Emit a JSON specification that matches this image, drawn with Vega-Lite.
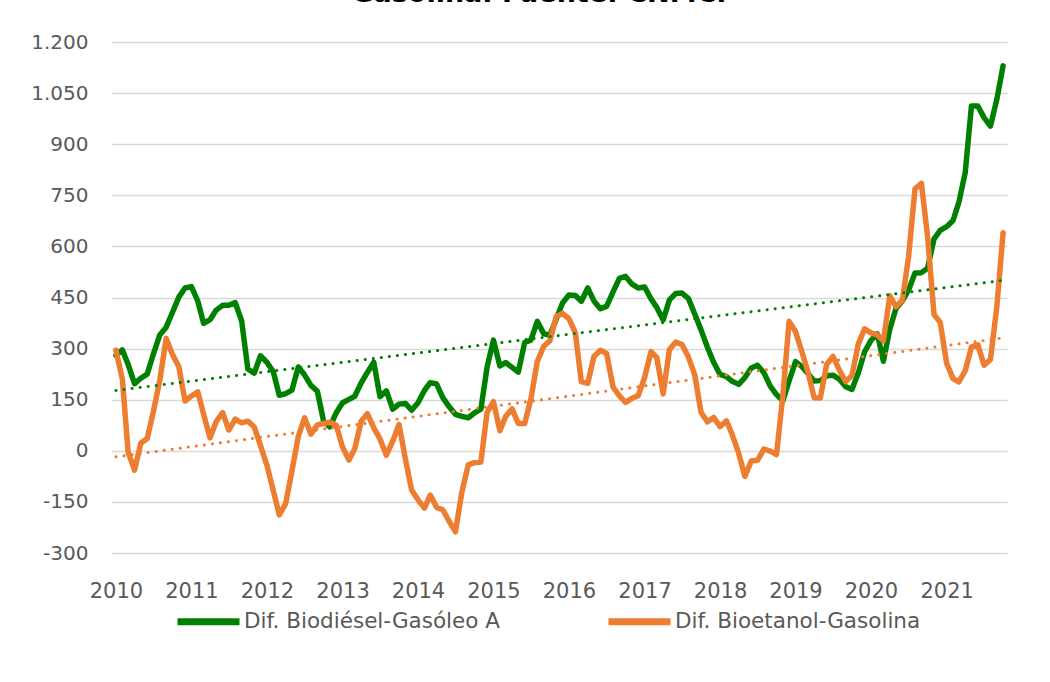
{
  "$schema": "https://vega.github.io/schema/vega-lite/v6.json",
  "width": 896,
  "height": 511,
  "autosize": {"type": "none"},
  "padding": {"left": 111, "top": 42, "right": 43, "bottom": 129},
  "background": "white",
  "title": {"text": "Gasolina. Fuente: CNMC.", "fontSize": 27, "font": "DejaVu Sans", "fontWeight": "bold", "color": "#000000", "offset": 24, "anchor": "middle", "dx": -20},
  "config": {
    "locale": {"number": {"decimal": ",", "thousands": ".", "grouping": [3], "currency": ["", " €"], "minus": "-"}},
    "view": {"stroke": null},
    "axis": {"labelFont": "DejaVu Sans", "labelColor": "#595959"}
  },
  "data": {
    "format": {"parse": {"date": "date"}},
    "values": [
      {"date":"2010-01-01","biodiesel":280,"bioetanol":295},
      {"date":"2010-02-01","biodiesel":296,"bioetanol":210},
      {"date":"2010-03-01","biodiesel":253,"bioetanol":-4},
      {"date":"2010-04-01","biodiesel":197,"bioetanol":-57},
      {"date":"2010-05-01","biodiesel":213,"bioetanol":22},
      {"date":"2010-06-01","biodiesel":225,"bioetanol":36},
      {"date":"2010-07-01","biodiesel":284,"bioetanol":115},
      {"date":"2010-08-01","biodiesel":340,"bioetanol":207},
      {"date":"2010-09-01","biodiesel":363,"bioetanol":330},
      {"date":"2010-10-01","biodiesel":406,"bioetanol":283},
      {"date":"2010-11-01","biodiesel":451,"bioetanol":247},
      {"date":"2010-12-01","biodiesel":478,"bioetanol":146},
      {"date":"2011-01-01","biodiesel":482,"bioetanol":161},
      {"date":"2011-02-01","biodiesel":439,"bioetanol":173},
      {"date":"2011-03-01","biodiesel":374,"bioetanol":107},
      {"date":"2011-04-01","biodiesel":385,"bioetanol":38},
      {"date":"2011-05-01","biodiesel":413,"bioetanol":86},
      {"date":"2011-06-01","biodiesel":427,"bioetanol":112},
      {"date":"2011-07-01","biodiesel":427,"bioetanol":61},
      {"date":"2011-08-01","biodiesel":435,"bioetanol":93},
      {"date":"2011-09-01","biodiesel":381,"bioetanol":82},
      {"date":"2011-10-01","biodiesel":240,"bioetanol":87},
      {"date":"2011-11-01","biodiesel":228,"bioetanol":70},
      {"date":"2011-12-01","biodiesel":279,"bioetanol":15},
      {"date":"2012-01-01","biodiesel":260,"bioetanol":-42},
      {"date":"2012-02-01","biodiesel":232,"bioetanol":-117},
      {"date":"2012-03-01","biodiesel":163,"bioetanol":-188},
      {"date":"2012-04-01","biodiesel":168,"bioetanol":-155},
      {"date":"2012-05-01","biodiesel":178,"bioetanol":-60},
      {"date":"2012-06-01","biodiesel":246,"bioetanol":42},
      {"date":"2012-07-01","biodiesel":223,"bioetanol":97},
      {"date":"2012-08-01","biodiesel":192,"bioetanol":49},
      {"date":"2012-09-01","biodiesel":175,"bioetanol":76},
      {"date":"2012-10-01","biodiesel":88,"bioetanol":80},
      {"date":"2012-11-01","biodiesel":70,"bioetanol":84},
      {"date":"2012-12-01","biodiesel":111,"bioetanol":76},
      {"date":"2013-01-01","biodiesel":141,"bioetanol":11},
      {"date":"2013-02-01","biodiesel":151,"bioetanol":-27},
      {"date":"2013-03-01","biodiesel":160,"bioetanol":6},
      {"date":"2013-04-01","biodiesel":199,"bioetanol":87},
      {"date":"2013-05-01","biodiesel":230,"bioetanol":109},
      {"date":"2013-06-01","biodiesel":260,"bioetanol":67},
      {"date":"2013-07-01","biodiesel":159,"bioetanol":35},
      {"date":"2013-08-01","biodiesel":176,"bioetanol":-13},
      {"date":"2013-09-01","biodiesel":122,"bioetanol":29},
      {"date":"2013-10-01","biodiesel":137,"bioetanol":77},
      {"date":"2013-11-01","biodiesel":139,"bioetanol":-24},
      {"date":"2013-12-01","biodiesel":119,"bioetanol":-115},
      {"date":"2014-01-01","biodiesel":141,"bioetanol":-144},
      {"date":"2014-02-01","biodiesel":177,"bioetanol":-168},
      {"date":"2014-03-01","biodiesel":200,"bioetanol":-130},
      {"date":"2014-04-01","biodiesel":196,"bioetanol":-166},
      {"date":"2014-05-01","biodiesel":156,"bioetanol":-173},
      {"date":"2014-06-01","biodiesel":129,"bioetanol":-207},
      {"date":"2014-07-01","biodiesel":107,"bioetanol":-238},
      {"date":"2014-08-01","biodiesel":101,"bioetanol":-122},
      {"date":"2014-09-01","biodiesel":97,"bioetanol":-41},
      {"date":"2014-10-01","biodiesel":111,"bioetanol":-35},
      {"date":"2014-11-01","biodiesel":122,"bioetanol":-33},
      {"date":"2014-12-01","biodiesel":245,"bioetanol":112},
      {"date":"2015-01-01","biodiesel":325,"bioetanol":144},
      {"date":"2015-02-01","biodiesel":249,"bioetanol":59},
      {"date":"2015-03-01","biodiesel":259,"bioetanol":101},
      {"date":"2015-04-01","biodiesel":245,"bioetanol":123},
      {"date":"2015-05-01","biodiesel":231,"bioetanol":80},
      {"date":"2015-06-01","biodiesel":318,"bioetanol":80},
      {"date":"2015-07-01","biodiesel":325,"bioetanol":152},
      {"date":"2015-08-01","biodiesel":380,"bioetanol":262},
      {"date":"2015-09-01","biodiesel":344,"bioetanol":307},
      {"date":"2015-10-01","biodiesel":339,"bioetanol":323},
      {"date":"2015-11-01","biodiesel":387,"bioetanol":394},
      {"date":"2015-12-01","biodiesel":434,"bioetanol":403},
      {"date":"2016-01-01","biodiesel":457,"bioetanol":388},
      {"date":"2016-02-01","biodiesel":456,"bioetanol":346},
      {"date":"2016-03-01","biodiesel":439,"bioetanol":203},
      {"date":"2016-04-01","biodiesel":478,"bioetanol":198},
      {"date":"2016-05-01","biodiesel":440,"bioetanol":277},
      {"date":"2016-06-01","biodiesel":417,"bioetanol":295},
      {"date":"2016-07-01","biodiesel":424,"bioetanol":286},
      {"date":"2016-08-01","biodiesel":466,"bioetanol":188},
      {"date":"2016-09-01","biodiesel":506,"bioetanol":161},
      {"date":"2016-10-01","biodiesel":512,"bioetanol":142},
      {"date":"2016-11-01","biodiesel":489,"bioetanol":154},
      {"date":"2016-12-01","biodiesel":478,"bioetanol":162},
      {"date":"2017-01-01","biodiesel":481,"bioetanol":215},
      {"date":"2017-02-01","biodiesel":446,"bioetanol":291},
      {"date":"2017-03-01","biodiesel":421,"bioetanol":274},
      {"date":"2017-04-01","biodiesel":384,"bioetanol":167},
      {"date":"2017-05-01","biodiesel":443,"bioetanol":297},
      {"date":"2017-06-01","biodiesel":462,"bioetanol":319},
      {"date":"2017-07-01","biodiesel":463,"bioetanol":312},
      {"date":"2017-08-01","biodiesel":447,"bioetanol":275},
      {"date":"2017-09-01","biodiesel":401,"bioetanol":222},
      {"date":"2017-10-01","biodiesel":355,"bioetanol":113},
      {"date":"2017-11-01","biodiesel":304,"bioetanol":85},
      {"date":"2017-12-01","biodiesel":260,"bioetanol":98},
      {"date":"2018-01-01","biodiesel":224,"bioetanol":71},
      {"date":"2018-02-01","biodiesel":218,"bioetanol":88},
      {"date":"2018-03-01","biodiesel":204,"bioetanol":47},
      {"date":"2018-04-01","biodiesel":195,"bioetanol":-7},
      {"date":"2018-05-01","biodiesel":215,"bioetanol":-75},
      {"date":"2018-06-01","biodiesel":243,"bioetanol":-30},
      {"date":"2018-07-01","biodiesel":251,"bioetanol":-28},
      {"date":"2018-08-01","biodiesel":229,"bioetanol":5},
      {"date":"2018-09-01","biodiesel":190,"bioetanol":-1},
      {"date":"2018-10-01","biodiesel":165,"bioetanol":-11},
      {"date":"2018-11-01","biodiesel":147,"bioetanol":163},
      {"date":"2018-12-01","biodiesel":205,"bioetanol":380},
      {"date":"2019-01-01","biodiesel":262,"bioetanol":350},
      {"date":"2019-02-01","biodiesel":247,"bioetanol":290},
      {"date":"2019-03-01","biodiesel":228,"bioetanol":234},
      {"date":"2019-04-01","biodiesel":205,"bioetanol":156},
      {"date":"2019-05-01","biodiesel":206,"bioetanol":155},
      {"date":"2019-06-01","biodiesel":220,"bioetanol":254},
      {"date":"2019-07-01","biodiesel":222,"bioetanol":277},
      {"date":"2019-08-01","biodiesel":210,"bioetanol":237},
      {"date":"2019-09-01","biodiesel":188,"bioetanol":203},
      {"date":"2019-10-01","biodiesel":180,"bioetanol":221},
      {"date":"2019-11-01","biodiesel":229,"bioetanol":314},
      {"date":"2019-12-01","biodiesel":290,"bioetanol":358},
      {"date":"2020-01-01","biodiesel":324,"bioetanol":346},
      {"date":"2020-02-01","biodiesel":343,"bioetanol":340},
      {"date":"2020-03-01","biodiesel":263,"bioetanol":323},
      {"date":"2020-04-01","biodiesel":357,"bioetanol":455},
      {"date":"2020-05-01","biodiesel":418,"bioetanol":423},
      {"date":"2020-06-01","biodiesel":440,"bioetanol":442},
      {"date":"2020-07-01","biodiesel":472,"bioetanol":570},
      {"date":"2020-08-01","biodiesel":522,"bioetanol":769},
      {"date":"2020-09-01","biodiesel":523,"bioetanol":785},
      {"date":"2020-10-01","biodiesel":536,"bioetanol":628},
      {"date":"2020-11-01","biodiesel":622,"bioetanol":400},
      {"date":"2020-12-01","biodiesel":647,"bioetanol":377},
      {"date":"2021-01-01","biodiesel":658,"bioetanol":257},
      {"date":"2021-02-01","biodiesel":676,"bioetanol":212},
      {"date":"2021-03-01","biodiesel":729,"bioetanol":202},
      {"date":"2021-04-01","biodiesel":817,"bioetanol":235},
      {"date":"2021-05-01","biodiesel":1012,"bioetanol":305},
      {"date":"2021-06-01","biodiesel":1012,"bioetanol":311},
      {"date":"2021-07-01","biodiesel":978,"bioetanol":251},
      {"date":"2021-08-01","biodiesel":953,"bioetanol":268},
      {"date":"2021-09-01","biodiesel":1032,"bioetanol":424},
      {"date":"2021-10-01","biodiesel":1130,"bioetanol":640}
    ]
  },
  "transform": [{"fold": ["biodiesel", "bioetanol"], "as": ["serie", "value"]}],
  "encoding": {
    "x": {
      "field": "date",
      "type": "temporal",
      "scale": {"type": "utc", "domain": [{"year": 2009, "month": 12, "date": 8, "utc": true}, {"year": 2021, "month": 10, "date": 20, "utc": true}]},
      "axis": {"title": null, "format": "%Y", "tickCount": {"interval": "year", "step": 1}, "grid": false, "domain": false, "ticks": false, "labelPadding": 27, "labelFontSize": 21, "labelFlush": false, "labelOverlap": false}
    },
    "y": {
      "field": "value",
      "type": "quantitative",
      "scale": {"domain": [-300, 1200], "nice": false, "zero": false},
      "axis": {"title": null, "values": [-300, -150, 0, 150, 300, 450, 600, 750, 900, 1050, 1200], "format": ",d", "domain": false, "ticks": false, "labelPadding": 23, "labelFontSize": 20, "gridColor": "#d9d9d9", "gridWidth": 1.5}
    },
    "color": {
      "field": "serie",
      "type": "nominal",
      "scale": {"domain": ["biodiesel", "bioetanol"], "range": ["#008000", "#ED7D31"]},
      "legend": {"orient": "none", "legendX": 63, "legendY": 545, "direction": "horizontal", "title": null, "symbolType": "stroke", "symbolSize": 3844, "symbolStrokeWidth": 7, "labelFont": "DejaVu Sans", "labelFontSize": 21.5, "labelColor": "#595959", "labelOffset": 1, "columnPadding": 94, "labelLimit": 400, "labelExpr": "datum.value == 'biodiesel' ? 'Dif. Biodiésel-Gasóleo A' : 'Dif. Bioetanol-Gasolina'"}
    }
  },
  "layer": [
    {"mark": {"type": "line", "strokeWidth": 5.5, "strokeJoin": "round", "strokeCap": "round"}},
    {
      "transform": [{"regression": "value", "on": "date", "groupby": ["serie"]}],
      "mark": {"type": "line", "strokeWidth": 3, "strokeDash": [0.1, 8], "strokeCap": "round"}
    }
  ]
}
